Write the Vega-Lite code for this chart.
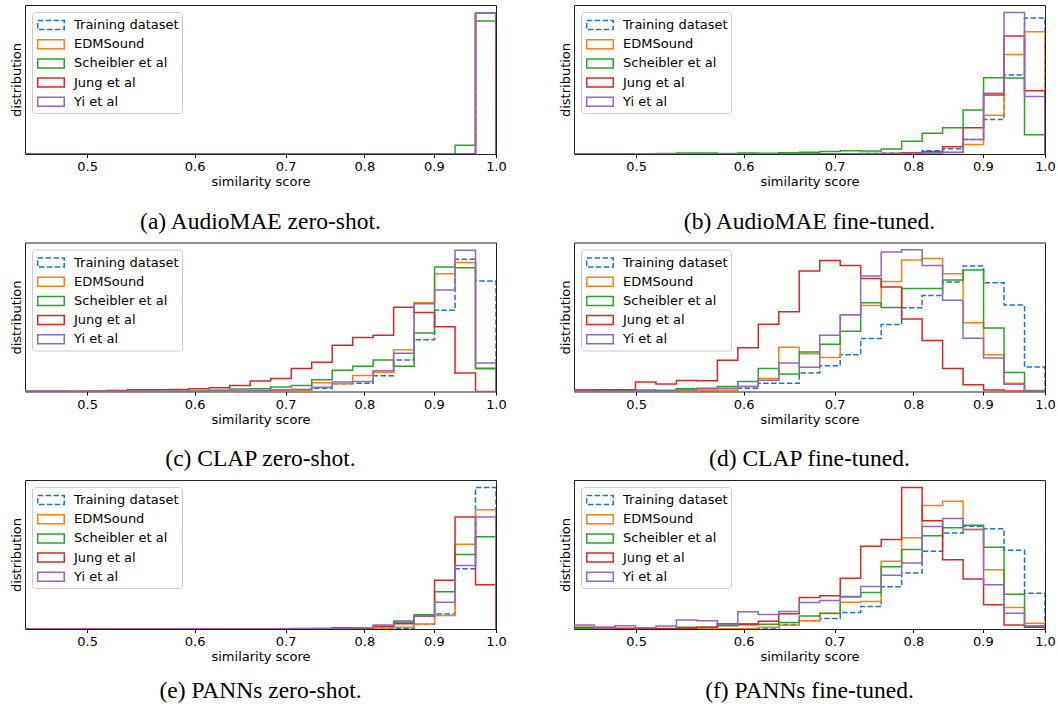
{
"$schema": "https://vega.github.io/schema/vega-lite/v6.json",
"background": "white",
"padding": {"left": 10, "top": 4, "right": 2, "bottom": 2},
"config": {
  "view": {"stroke": "#222", "strokeWidth": 1},
  "font": "DejaVu Sans",
  "axis": {"labelFont": "DejaVu Sans", "titleFont": "DejaVu Sans", "labelColor": "#000", "titleColor": "#000", "titleFontWeight": "normal", "labelFontSize": 13, "titleFontSize": 13, "grid": false},
  "axisX": {"tickSize": 3.5, "tickColor": "#000", "tickWidth": 1, "domain": false, "labelPadding": 3, "labelFlush": false, "labelOverlap": false, "titlePadding": 2},
  "axisY": {"labels": false, "ticks": false, "domain": false, "titlePadding": 1.5},
  "legend": {"orient": "top-left", "offset": 7, "padding": 3, "fillColor": "rgba(255,255,255,0.8)", "strokeColor": "#cccccc", "cornerRadius": 3, "labelFont": "DejaVu Sans", "labelFontSize": 13, "labelColor": "#000", "labelOffset": 19, "symbolType": "M-0.81,-0.5H2.14V0.5H-0.81Z", "symbolSize": 324, "symbolStrokeWidth": 1.5, "symbolFillColor": "transparent", "rowPadding": 1.2},
  "title": {"font": "Liberation Serif", "fontSize": 23.5, "fontWeight": "normal", "color": "#000", "orient": "bottom", "offset": 21, "frame": "group"}
},
"datasets": {
"a": [
{"s":0,"x":0.45,"y":0},{"s":0,"x":0.4659,"y":0},{"s":0,"x":0.48236,"y":0},{"s":0,"x":0.4994,"y":0},{"s":0,"x":0.51704,"y":0},{"s":0,"x":0.53531,"y":0},{"s":0,"x":0.55422,"y":0},{"s":0,"x":0.5738,"y":0},{"s":0,"x":0.59407,"y":0},{"s":0,"x":0.61505,"y":0},{"s":0,"x":0.63678,"y":0},{"s":0,"x":0.65928,"y":0},{"s":0,"x":0.68257,"y":0},{"s":0,"x":0.70668,"y":0},{"s":0,"x":0.73165,"y":0},{"s":0,"x":0.7575,"y":0},{"s":0,"x":0.78426,"y":0},{"s":0,"x":0.81196,"y":0},{"s":0,"x":0.84065,"y":0},{"s":0,"x":0.87035,"y":0},{"s":0,"x":0.90109,"y":0},{"s":0,"x":0.93293,"y":0},{"s":0,"x":0.96589,"y":0.948},{"s":0,"x":1,"y":0},
{"s":1,"x":0.45,"y":0},{"s":1,"x":0.4659,"y":0},{"s":1,"x":0.48236,"y":0},{"s":1,"x":0.4994,"y":0},{"s":1,"x":0.51704,"y":0},{"s":1,"x":0.53531,"y":0},{"s":1,"x":0.55422,"y":0},{"s":1,"x":0.5738,"y":0},{"s":1,"x":0.59407,"y":0},{"s":1,"x":0.61505,"y":0},{"s":1,"x":0.63678,"y":0},{"s":1,"x":0.65928,"y":0},{"s":1,"x":0.68257,"y":0},{"s":1,"x":0.70668,"y":0},{"s":1,"x":0.73165,"y":0},{"s":1,"x":0.7575,"y":0},{"s":1,"x":0.78426,"y":0},{"s":1,"x":0.81196,"y":0},{"s":1,"x":0.84065,"y":0},{"s":1,"x":0.87035,"y":0},{"s":1,"x":0.90109,"y":0},{"s":1,"x":0.93293,"y":0},{"s":1,"x":0.96589,"y":0.948},{"s":1,"x":1,"y":0},
{"s":2,"x":0.45,"y":0},{"s":2,"x":0.4659,"y":0},{"s":2,"x":0.48236,"y":0},{"s":2,"x":0.4994,"y":0},{"s":2,"x":0.51704,"y":0},{"s":2,"x":0.53531,"y":0},{"s":2,"x":0.55422,"y":0},{"s":2,"x":0.5738,"y":0},{"s":2,"x":0.59407,"y":0},{"s":2,"x":0.61505,"y":0},{"s":2,"x":0.63678,"y":0},{"s":2,"x":0.65928,"y":0},{"s":2,"x":0.68257,"y":0},{"s":2,"x":0.70668,"y":0},{"s":2,"x":0.73165,"y":0},{"s":2,"x":0.7575,"y":0},{"s":2,"x":0.78426,"y":0},{"s":2,"x":0.81196,"y":0},{"s":2,"x":0.84065,"y":0},{"s":2,"x":0.87035,"y":0},{"s":2,"x":0.90109,"y":0},{"s":2,"x":0.93293,"y":0.058},{"s":2,"x":0.96589,"y":0.892},{"s":2,"x":1,"y":0},
{"s":3,"x":0.45,"y":0},{"s":3,"x":0.4659,"y":0},{"s":3,"x":0.48236,"y":0},{"s":3,"x":0.4994,"y":0},{"s":3,"x":0.51704,"y":0},{"s":3,"x":0.53531,"y":0},{"s":3,"x":0.55422,"y":0},{"s":3,"x":0.5738,"y":0},{"s":3,"x":0.59407,"y":0},{"s":3,"x":0.61505,"y":0},{"s":3,"x":0.63678,"y":0},{"s":3,"x":0.65928,"y":0},{"s":3,"x":0.68257,"y":0},{"s":3,"x":0.70668,"y":0},{"s":3,"x":0.73165,"y":0},{"s":3,"x":0.7575,"y":0},{"s":3,"x":0.78426,"y":0},{"s":3,"x":0.81196,"y":0},{"s":3,"x":0.84065,"y":0},{"s":3,"x":0.87035,"y":0},{"s":3,"x":0.90109,"y":0},{"s":3,"x":0.93293,"y":0},{"s":3,"x":0.96589,"y":0.948},{"s":3,"x":1,"y":0},
{"s":4,"x":0.45,"y":0},{"s":4,"x":0.4659,"y":0},{"s":4,"x":0.48236,"y":0},{"s":4,"x":0.4994,"y":0},{"s":4,"x":0.51704,"y":0},{"s":4,"x":0.53531,"y":0},{"s":4,"x":0.55422,"y":0},{"s":4,"x":0.5738,"y":0},{"s":4,"x":0.59407,"y":0},{"s":4,"x":0.61505,"y":0},{"s":4,"x":0.63678,"y":0},{"s":4,"x":0.65928,"y":0},{"s":4,"x":0.68257,"y":0},{"s":4,"x":0.70668,"y":0},{"s":4,"x":0.73165,"y":0},{"s":4,"x":0.7575,"y":0},{"s":4,"x":0.78426,"y":0},{"s":4,"x":0.81196,"y":0},{"s":4,"x":0.84065,"y":0},{"s":4,"x":0.87035,"y":0},{"s":4,"x":0.90109,"y":0},{"s":4,"x":0.93293,"y":0},{"s":4,"x":0.96589,"y":0.948},{"s":4,"x":1,"y":0}
],
"b": [
{"s":0,"x":0.45,"y":0},{"s":0,"x":0.4659,"y":0},{"s":0,"x":0.48236,"y":0},{"s":0,"x":0.4994,"y":0},{"s":0,"x":0.51704,"y":0},{"s":0,"x":0.53531,"y":0},{"s":0,"x":0.55422,"y":0},{"s":0,"x":0.5738,"y":0},{"s":0,"x":0.59407,"y":0},{"s":0,"x":0.61505,"y":0},{"s":0,"x":0.63678,"y":0},{"s":0,"x":0.65928,"y":0},{"s":0,"x":0.68257,"y":0},{"s":0,"x":0.70668,"y":0.002},{"s":0,"x":0.73165,"y":0.004},{"s":0,"x":0.7575,"y":0.005},{"s":0,"x":0.78426,"y":0.008},{"s":0,"x":0.81196,"y":0.021},{"s":0,"x":0.84065,"y":0.036},{"s":0,"x":0.87035,"y":0.097},{"s":0,"x":0.90109,"y":0.231},{"s":0,"x":0.93293,"y":0.53},{"s":0,"x":0.96589,"y":0.913},{"s":0,"x":1,"y":0},
{"s":1,"x":0.45,"y":0},{"s":1,"x":0.4659,"y":0},{"s":1,"x":0.48236,"y":0},{"s":1,"x":0.4994,"y":0},{"s":1,"x":0.51704,"y":0},{"s":1,"x":0.53531,"y":0},{"s":1,"x":0.55422,"y":0},{"s":1,"x":0.5738,"y":0},{"s":1,"x":0.59407,"y":0},{"s":1,"x":0.61505,"y":0},{"s":1,"x":0.63678,"y":0},{"s":1,"x":0.65928,"y":0},{"s":1,"x":0.68257,"y":0},{"s":1,"x":0.70668,"y":0},{"s":1,"x":0.73165,"y":0},{"s":1,"x":0.7575,"y":0},{"s":1,"x":0.78426,"y":0},{"s":1,"x":0.81196,"y":0.004},{"s":1,"x":0.84065,"y":0.011},{"s":1,"x":0.87035,"y":0.063},{"s":1,"x":0.90109,"y":0.26},{"s":1,"x":0.93293,"y":0.667},{"s":1,"x":0.96589,"y":0.821},{"s":1,"x":1,"y":0},
{"s":2,"x":0.45,"y":0},{"s":2,"x":0.4659,"y":0},{"s":2,"x":0.48236,"y":0},{"s":2,"x":0.4994,"y":0.002},{"s":2,"x":0.51704,"y":0.004},{"s":2,"x":0.53531,"y":0.007},{"s":2,"x":0.55422,"y":0.007},{"s":2,"x":0.5738,"y":0.004},{"s":2,"x":0.59407,"y":0.007},{"s":2,"x":0.61505,"y":0.005},{"s":2,"x":0.63678,"y":0.009},{"s":2,"x":0.65928,"y":0.011},{"s":2,"x":0.68257,"y":0.016},{"s":2,"x":0.70668,"y":0.022},{"s":2,"x":0.73165,"y":0.02},{"s":2,"x":0.7575,"y":0.034},{"s":2,"x":0.78426,"y":0.085},{"s":2,"x":0.81196,"y":0.14},{"s":2,"x":0.84065,"y":0.176},{"s":2,"x":0.87035,"y":0.296},{"s":2,"x":0.90109,"y":0.512},{"s":2,"x":0.93293,"y":0.51},{"s":2,"x":0.96589,"y":0.129},{"s":2,"x":1,"y":0},
{"s":3,"x":0.45,"y":0},{"s":3,"x":0.4659,"y":0},{"s":3,"x":0.48236,"y":0},{"s":3,"x":0.4994,"y":0},{"s":3,"x":0.51704,"y":0},{"s":3,"x":0.53531,"y":0},{"s":3,"x":0.55422,"y":0},{"s":3,"x":0.5738,"y":0},{"s":3,"x":0.59407,"y":0},{"s":3,"x":0.61505,"y":0},{"s":3,"x":0.63678,"y":0},{"s":3,"x":0.65928,"y":0},{"s":3,"x":0.68257,"y":0},{"s":3,"x":0.70668,"y":0},{"s":3,"x":0.73165,"y":0},{"s":3,"x":0.7575,"y":0.004},{"s":3,"x":0.78426,"y":0.008},{"s":3,"x":0.81196,"y":0.015},{"s":3,"x":0.84065,"y":0.048},{"s":3,"x":0.87035,"y":0.176},{"s":3,"x":0.90109,"y":0.396},{"s":3,"x":0.93293,"y":0.792},{"s":3,"x":0.96589,"y":0.425},{"s":3,"x":1,"y":0},
{"s":4,"x":0.45,"y":0},{"s":4,"x":0.4659,"y":0},{"s":4,"x":0.48236,"y":0},{"s":4,"x":0.4994,"y":0.002},{"s":4,"x":0.51704,"y":0.002},{"s":4,"x":0.53531,"y":0.002},{"s":4,"x":0.55422,"y":0.002},{"s":4,"x":0.5738,"y":0.002},{"s":4,"x":0.59407,"y":0.002},{"s":4,"x":0.61505,"y":0.002},{"s":4,"x":0.63678,"y":0.002},{"s":4,"x":0.65928,"y":0},{"s":4,"x":0.68257,"y":0},{"s":4,"x":0.70668,"y":0},{"s":4,"x":0.73165,"y":0.003},{"s":4,"x":0.7575,"y":0.004},{"s":4,"x":0.78426,"y":0.005},{"s":4,"x":0.81196,"y":0.009},{"s":4,"x":0.84065,"y":0.01},{"s":4,"x":0.87035,"y":0.097},{"s":4,"x":0.90109,"y":0.407},{"s":4,"x":0.93293,"y":0.949},{"s":4,"x":0.96589,"y":0.386},{"s":4,"x":1,"y":0}
],
"c": [
{"s":0,"x":0.45,"y":0},{"s":0,"x":0.4659,"y":0},{"s":0,"x":0.48236,"y":0},{"s":0,"x":0.4994,"y":0},{"s":0,"x":0.51704,"y":0},{"s":0,"x":0.53531,"y":0},{"s":0,"x":0.55422,"y":0},{"s":0,"x":0.5738,"y":0},{"s":0,"x":0.59407,"y":0},{"s":0,"x":0.61505,"y":0},{"s":0,"x":0.63678,"y":0},{"s":0,"x":0.65928,"y":0.002},{"s":0,"x":0.68257,"y":0.007},{"s":0,"x":0.70668,"y":0.013},{"s":0,"x":0.73165,"y":0.022},{"s":0,"x":0.7575,"y":0.052},{"s":0,"x":0.78426,"y":0.056},{"s":0,"x":0.81196,"y":0.106},{"s":0,"x":0.84065,"y":0.211},{"s":0,"x":0.87035,"y":0.348},{"s":0,"x":0.90109,"y":0.546},{"s":0,"x":0.93293,"y":0.888},{"s":0,"x":0.96589,"y":0.742},{"s":0,"x":1,"y":0},
{"s":1,"x":0.45,"y":0},{"s":1,"x":0.4659,"y":0},{"s":1,"x":0.48236,"y":0},{"s":1,"x":0.4994,"y":0},{"s":1,"x":0.51704,"y":0},{"s":1,"x":0.53531,"y":0},{"s":1,"x":0.55422,"y":0},{"s":1,"x":0.5738,"y":0},{"s":1,"x":0.59407,"y":0},{"s":1,"x":0.61505,"y":0.002},{"s":1,"x":0.63678,"y":0.004},{"s":1,"x":0.65928,"y":0.005},{"s":1,"x":0.68257,"y":0.007},{"s":1,"x":0.70668,"y":0.007},{"s":1,"x":0.73165,"y":0.058},{"s":1,"x":0.7575,"y":0.052},{"s":1,"x":0.78426,"y":0.108},{"s":1,"x":0.81196,"y":0.13},{"s":1,"x":0.84065,"y":0.281},{"s":1,"x":0.87035,"y":0.596},{"s":1,"x":0.90109,"y":0.791},{"s":1,"x":0.93293,"y":0.865},{"s":1,"x":0.96589,"y":0.157},{"s":1,"x":1,"y":0},
{"s":2,"x":0.45,"y":0},{"s":2,"x":0.4659,"y":0},{"s":2,"x":0.48236,"y":0},{"s":2,"x":0.4994,"y":0},{"s":2,"x":0.51704,"y":0},{"s":2,"x":0.53531,"y":0},{"s":2,"x":0.55422,"y":0},{"s":2,"x":0.5738,"y":0},{"s":2,"x":0.59407,"y":0.004},{"s":2,"x":0.61505,"y":0.009},{"s":2,"x":0.63678,"y":0.016},{"s":2,"x":0.65928,"y":0.018},{"s":2,"x":0.68257,"y":0.031},{"s":2,"x":0.70668,"y":0.04},{"s":2,"x":0.73165,"y":0.079},{"s":2,"x":0.7575,"y":0.142},{"s":2,"x":0.78426,"y":0.169},{"s":2,"x":0.81196,"y":0.211},{"s":2,"x":0.84065,"y":0.169},{"s":2,"x":0.87035,"y":0.393},{"s":2,"x":0.90109,"y":0.836},{"s":2,"x":0.93293,"y":0.831},{"s":2,"x":0.96589,"y":0.153},{"s":2,"x":1,"y":0},
{"s":3,"x":0.45,"y":0},{"s":3,"x":0.4659,"y":0},{"s":3,"x":0.48236,"y":0},{"s":3,"x":0.4994,"y":0.002},{"s":3,"x":0.51704,"y":0.007},{"s":3,"x":0.53531,"y":0.011},{"s":3,"x":0.55422,"y":0.011},{"s":3,"x":0.5738,"y":0.013},{"s":3,"x":0.59407,"y":0.018},{"s":3,"x":0.61505,"y":0.025},{"s":3,"x":0.63678,"y":0.04},{"s":3,"x":0.65928,"y":0.07},{"s":3,"x":0.68257,"y":0.088},{"s":3,"x":0.70668,"y":0.155},{"s":3,"x":0.73165,"y":0.196},{"s":3,"x":0.7575,"y":0.31},{"s":3,"x":0.78426,"y":0.362},{"s":3,"x":0.81196,"y":0.378},{"s":3,"x":0.84065,"y":0.566},{"s":3,"x":0.87035,"y":0.53},{"s":3,"x":0.90109,"y":0.434},{"s":3,"x":0.93293,"y":0.124},{"s":3,"x":0.96589,"y":0},{"s":3,"x":1,"y":0},
{"s":4,"x":0.45,"y":0.003},{"s":4,"x":0.4659,"y":0.003},{"s":4,"x":0.48236,"y":0.002},{"s":4,"x":0.4994,"y":0.002},{"s":4,"x":0.51704,"y":0.002},{"s":4,"x":0.53531,"y":0.002},{"s":4,"x":0.55422,"y":0.002},{"s":4,"x":0.5738,"y":0.002},{"s":4,"x":0.59407,"y":0.002},{"s":4,"x":0.61505,"y":0.002},{"s":4,"x":0.63678,"y":0.004},{"s":4,"x":0.65928,"y":0.007},{"s":4,"x":0.68257,"y":0.011},{"s":4,"x":0.70668,"y":0.013},{"s":4,"x":0.73165,"y":0.029},{"s":4,"x":0.7575,"y":0.063},{"s":4,"x":0.78426,"y":0.067},{"s":4,"x":0.81196,"y":0.139},{"s":4,"x":0.84065,"y":0.256},{"s":4,"x":0.87035,"y":0.589},{"s":4,"x":0.90109,"y":0.681},{"s":4,"x":0.93293,"y":0.948},{"s":4,"x":0.96589,"y":0.191},{"s":4,"x":1,"y":0}
],
"d": [
{"s":0,"x":0.45,"y":0},{"s":0,"x":0.4659,"y":0},{"s":0,"x":0.48236,"y":0},{"s":0,"x":0.4994,"y":0},{"s":0,"x":0.51704,"y":0},{"s":0,"x":0.53531,"y":0},{"s":0,"x":0.55422,"y":0.002},{"s":0,"x":0.5738,"y":0.007},{"s":0,"x":0.59407,"y":0.022},{"s":0,"x":0.61505,"y":0.056},{"s":0,"x":0.63678,"y":0.056},{"s":0,"x":0.65928,"y":0.124},{"s":0,"x":0.68257,"y":0.173},{"s":0,"x":0.70668,"y":0.247},{"s":0,"x":0.73165,"y":0.355},{"s":0,"x":0.7575,"y":0.449},{"s":0,"x":0.78426,"y":0.562},{"s":0,"x":0.81196,"y":0.645},{"s":0,"x":0.84065,"y":0.735},{"s":0,"x":0.87035,"y":0.843},{"s":0,"x":0.90109,"y":0.73},{"s":0,"x":0.93293,"y":0.58},{"s":0,"x":0.96589,"y":0.164},{"s":0,"x":1,"y":0},
{"s":1,"x":0.45,"y":0.002},{"s":1,"x":0.4659,"y":0.002},{"s":1,"x":0.48236,"y":0.002},{"s":1,"x":0.4994,"y":0.011},{"s":1,"x":0.51704,"y":0.005},{"s":1,"x":0.53531,"y":0.005},{"s":1,"x":0.55422,"y":0.009},{"s":1,"x":0.5738,"y":0.009},{"s":1,"x":0.59407,"y":0.034},{"s":1,"x":0.61505,"y":0.088},{"s":1,"x":0.63678,"y":0.297},{"s":1,"x":0.65928,"y":0.254},{"s":1,"x":0.68257,"y":0.229},{"s":1,"x":0.70668,"y":0.515},{"s":1,"x":0.73165,"y":0.578},{"s":1,"x":0.7575,"y":0.739},{"s":1,"x":0.78426,"y":0.883},{"s":1,"x":0.81196,"y":0.892},{"s":1,"x":0.84065,"y":0.791},{"s":1,"x":0.87035,"y":0.461},{"s":1,"x":0.90109,"y":0.247},{"s":1,"x":0.93293,"y":0.056},{"s":1,"x":0.96589,"y":0.007},{"s":1,"x":1,"y":0},
{"s":2,"x":0.45,"y":0.011},{"s":2,"x":0.4659,"y":0.004},{"s":2,"x":0.48236,"y":0.004},{"s":2,"x":0.4994,"y":0.004},{"s":2,"x":0.51704,"y":0.009},{"s":2,"x":0.53531,"y":0.018},{"s":2,"x":0.55422,"y":0.022},{"s":2,"x":0.5738,"y":0.034},{"s":2,"x":0.59407,"y":0.067},{"s":2,"x":0.61505,"y":0.155},{"s":2,"x":0.63678,"y":0.117},{"s":2,"x":0.65928,"y":0.265},{"s":2,"x":0.68257,"y":0.317},{"s":2,"x":0.70668,"y":0.404},{"s":2,"x":0.73165,"y":0.596},{"s":2,"x":0.7575,"y":0.564},{"s":2,"x":0.78426,"y":0.692},{"s":2,"x":0.81196,"y":0.692},{"s":2,"x":0.84065,"y":0.748},{"s":2,"x":0.87035,"y":0.816},{"s":2,"x":0.90109,"y":0.427},{"s":2,"x":0.93293,"y":0.128},{"s":2,"x":0.96589,"y":0.004},{"s":2,"x":1,"y":0},
{"s":3,"x":0.45,"y":0.007},{"s":3,"x":0.4659,"y":0.011},{"s":3,"x":0.48236,"y":0.011},{"s":3,"x":0.4994,"y":0.063},{"s":3,"x":0.51704,"y":0.051},{"s":3,"x":0.53531,"y":0.074},{"s":3,"x":0.55422,"y":0.072},{"s":3,"x":0.5738,"y":0.21},{"s":3,"x":0.59407,"y":0.294},{"s":3,"x":0.61505,"y":0.452},{"s":3,"x":0.63678,"y":0.535},{"s":3,"x":0.65928,"y":0.809},{"s":3,"x":0.68257,"y":0.88},{"s":3,"x":0.70668,"y":0.845},{"s":3,"x":0.73165,"y":0.758},{"s":3,"x":0.7575,"y":0.702},{"s":3,"x":0.78426,"y":0.486},{"s":3,"x":0.81196,"y":0.342},{"s":3,"x":0.84065,"y":0.155},{"s":3,"x":0.87035,"y":0.045},{"s":3,"x":0.90109,"y":0.01},{"s":3,"x":0.93293,"y":0.003},{"s":3,"x":0.96589,"y":0},{"s":3,"x":1,"y":0},
{"s":4,"x":0.45,"y":0.002},{"s":4,"x":0.4659,"y":0.002},{"s":4,"x":0.48236,"y":0.002},{"s":4,"x":0.4994,"y":0.004},{"s":4,"x":0.51704,"y":0.004},{"s":4,"x":0.53531,"y":0.011},{"s":4,"x":0.55422,"y":0.018},{"s":4,"x":0.5738,"y":0.022},{"s":4,"x":0.59407,"y":0.034},{"s":4,"x":0.61505,"y":0.076},{"s":4,"x":0.63678,"y":0.191},{"s":4,"x":0.65928,"y":0.162},{"s":4,"x":0.68257,"y":0.378},{"s":4,"x":0.70668,"y":0.515},{"s":4,"x":0.73165,"y":0.775},{"s":4,"x":0.7575,"y":0.937},{"s":4,"x":0.78426,"y":0.951},{"s":4,"x":0.81196,"y":0.845},{"s":4,"x":0.84065,"y":0.613},{"s":4,"x":0.87035,"y":0.357},{"s":4,"x":0.90109,"y":0.225},{"s":4,"x":0.93293,"y":0.049},{"s":4,"x":0.96589,"y":0.002},{"s":4,"x":1,"y":0}
],
"e": [
{"s":0,"x":0.45,"y":0},{"s":0,"x":0.4659,"y":0},{"s":0,"x":0.48236,"y":0},{"s":0,"x":0.4994,"y":0},{"s":0,"x":0.51704,"y":0},{"s":0,"x":0.53531,"y":0},{"s":0,"x":0.55422,"y":0},{"s":0,"x":0.5738,"y":0},{"s":0,"x":0.59407,"y":0},{"s":0,"x":0.61505,"y":0},{"s":0,"x":0.63678,"y":0},{"s":0,"x":0.65928,"y":0},{"s":0,"x":0.68257,"y":0},{"s":0,"x":0.70668,"y":0},{"s":0,"x":0.73165,"y":0},{"s":0,"x":0.7575,"y":0},{"s":0,"x":0.78426,"y":0},{"s":0,"x":0.81196,"y":0.004},{"s":0,"x":0.84065,"y":0.005},{"s":0,"x":0.87035,"y":0.032},{"s":0,"x":0.90109,"y":0.101},{"s":0,"x":0.93293,"y":0.405},{"s":0,"x":0.96589,"y":0.95},{"s":0,"x":1,"y":0},
{"s":1,"x":0.45,"y":0},{"s":1,"x":0.4659,"y":0},{"s":1,"x":0.48236,"y":0},{"s":1,"x":0.4994,"y":0},{"s":1,"x":0.51704,"y":0},{"s":1,"x":0.53531,"y":0},{"s":1,"x":0.55422,"y":0},{"s":1,"x":0.5738,"y":0},{"s":1,"x":0.59407,"y":0},{"s":1,"x":0.61505,"y":0},{"s":1,"x":0.63678,"y":0},{"s":1,"x":0.65928,"y":0},{"s":1,"x":0.68257,"y":0},{"s":1,"x":0.70668,"y":0},{"s":1,"x":0.73165,"y":0},{"s":1,"x":0.7575,"y":0},{"s":1,"x":0.78426,"y":0.004},{"s":1,"x":0.81196,"y":0.007},{"s":1,"x":0.84065,"y":0.011},{"s":1,"x":0.87035,"y":0.034},{"s":1,"x":0.90109,"y":0.09},{"s":1,"x":0.93293,"y":0.568},{"s":1,"x":0.96589,"y":0.8},{"s":1,"x":1,"y":0},
{"s":2,"x":0.45,"y":0},{"s":2,"x":0.4659,"y":0},{"s":2,"x":0.48236,"y":0},{"s":2,"x":0.4994,"y":0},{"s":2,"x":0.51704,"y":0},{"s":2,"x":0.53531,"y":0},{"s":2,"x":0.55422,"y":0},{"s":2,"x":0.5738,"y":0},{"s":2,"x":0.59407,"y":0},{"s":2,"x":0.61505,"y":0},{"s":2,"x":0.63678,"y":0},{"s":2,"x":0.65928,"y":0},{"s":2,"x":0.68257,"y":0},{"s":2,"x":0.70668,"y":0},{"s":2,"x":0.73165,"y":0},{"s":2,"x":0.7575,"y":0},{"s":2,"x":0.78426,"y":0.004},{"s":2,"x":0.81196,"y":0.016},{"s":2,"x":0.84065,"y":0.054},{"s":2,"x":0.87035,"y":0.095},{"s":2,"x":0.90109,"y":0.25},{"s":2,"x":0.93293,"y":0.5},{"s":2,"x":0.96589,"y":0.619},{"s":2,"x":1,"y":0},
{"s":3,"x":0.45,"y":0},{"s":3,"x":0.4659,"y":0},{"s":3,"x":0.48236,"y":0},{"s":3,"x":0.4994,"y":0},{"s":3,"x":0.51704,"y":0},{"s":3,"x":0.53531,"y":0},{"s":3,"x":0.55422,"y":0},{"s":3,"x":0.5738,"y":0},{"s":3,"x":0.59407,"y":0},{"s":3,"x":0.61505,"y":0},{"s":3,"x":0.63678,"y":0},{"s":3,"x":0.65928,"y":0},{"s":3,"x":0.68257,"y":0.002},{"s":3,"x":0.70668,"y":0.004},{"s":3,"x":0.73165,"y":0.004},{"s":3,"x":0.7575,"y":0.009},{"s":3,"x":0.78426,"y":0.009},{"s":3,"x":0.81196,"y":0.018},{"s":3,"x":0.84065,"y":0.036},{"s":3,"x":0.87035,"y":0.085},{"s":3,"x":0.90109,"y":0.327},{"s":3,"x":0.93293,"y":0.752},{"s":3,"x":0.96589,"y":0.297},{"s":3,"x":1,"y":0},
{"s":4,"x":0.45,"y":0},{"s":4,"x":0.4659,"y":0},{"s":4,"x":0.48236,"y":0},{"s":4,"x":0.4994,"y":0},{"s":4,"x":0.51704,"y":0},{"s":4,"x":0.53531,"y":0},{"s":4,"x":0.55422,"y":0},{"s":4,"x":0.5738,"y":0},{"s":4,"x":0.59407,"y":0},{"s":4,"x":0.61505,"y":0},{"s":4,"x":0.63678,"y":0},{"s":4,"x":0.65928,"y":0},{"s":4,"x":0.68257,"y":0},{"s":4,"x":0.70668,"y":0.002},{"s":4,"x":0.73165,"y":0.004},{"s":4,"x":0.7575,"y":0.004},{"s":4,"x":0.78426,"y":0.009},{"s":4,"x":0.81196,"y":0.027},{"s":4,"x":0.84065,"y":0.045},{"s":4,"x":0.87035,"y":0.088},{"s":4,"x":0.90109,"y":0.18},{"s":4,"x":0.93293,"y":0.426},{"s":4,"x":0.96589,"y":0.752},{"s":4,"x":1,"y":0}
],
"f": [
{"s":0,"x":0.45,"y":0},{"s":0,"x":0.4659,"y":0},{"s":0,"x":0.48236,"y":0},{"s":0,"x":0.4994,"y":0},{"s":0,"x":0.51704,"y":0},{"s":0,"x":0.53531,"y":0},{"s":0,"x":0.55422,"y":0},{"s":0,"x":0.5738,"y":0},{"s":0,"x":0.59407,"y":0.002},{"s":0,"x":0.61505,"y":0.007},{"s":0,"x":0.63678,"y":0.03},{"s":0,"x":0.65928,"y":0.055},{"s":0,"x":0.68257,"y":0.07},{"s":0,"x":0.70668,"y":0.11},{"s":0,"x":0.73165,"y":0.151},{"s":0,"x":0.7575,"y":0.283},{"s":0,"x":0.78426,"y":0.376},{"s":0,"x":0.81196,"y":0.522},{"s":0,"x":0.84065,"y":0.645},{"s":0,"x":0.87035,"y":0.69},{"s":0,"x":0.90109,"y":0.672},{"s":0,"x":0.93293,"y":0.528},{"s":0,"x":0.96589,"y":0.24},{"s":0,"x":1,"y":0},
{"s":1,"x":0.45,"y":0},{"s":1,"x":0.4659,"y":0},{"s":1,"x":0.48236,"y":0},{"s":1,"x":0.4994,"y":0},{"s":1,"x":0.51704,"y":0},{"s":1,"x":0.53531,"y":0},{"s":1,"x":0.55422,"y":0},{"s":1,"x":0.5738,"y":0.002},{"s":1,"x":0.59407,"y":0.004},{"s":1,"x":0.61505,"y":0.011},{"s":1,"x":0.63678,"y":0.025},{"s":1,"x":0.65928,"y":0.056},{"s":1,"x":0.68257,"y":0.104},{"s":1,"x":0.70668,"y":0.18},{"s":1,"x":0.73165,"y":0.185},{"s":1,"x":0.7575,"y":0.455},{"s":1,"x":0.78426,"y":0.613},{"s":1,"x":0.81196,"y":0.829},{"s":1,"x":0.84065,"y":0.857},{"s":1,"x":0.87035,"y":0.667},{"s":1,"x":0.90109,"y":0.398},{"s":1,"x":0.93293,"y":0.144},{"s":1,"x":0.96589,"y":0.038},{"s":1,"x":1,"y":0},
{"s":2,"x":0.45,"y":0.004},{"s":2,"x":0.4659,"y":0.002},{"s":2,"x":0.48236,"y":0.002},{"s":2,"x":0.4994,"y":0.002},{"s":2,"x":0.51704,"y":0.002},{"s":2,"x":0.53531,"y":0.011},{"s":2,"x":0.55422,"y":0.011},{"s":2,"x":0.5738,"y":0.022},{"s":2,"x":0.59407,"y":0.036},{"s":2,"x":0.61505,"y":0.032},{"s":2,"x":0.63678,"y":0.043},{"s":2,"x":0.65928,"y":0.088},{"s":2,"x":0.68257,"y":0.105},{"s":2,"x":0.70668,"y":0.218},{"s":2,"x":0.73165,"y":0.245},{"s":2,"x":0.7575,"y":0.417},{"s":2,"x":0.78426,"y":0.534},{"s":2,"x":0.81196,"y":0.626},{"s":2,"x":0.84065,"y":0.68},{"s":2,"x":0.87035,"y":0.697},{"s":2,"x":0.90109,"y":0.548},{"s":2,"x":0.93293,"y":0.234},{"s":2,"x":0.96589,"y":0.02},{"s":2,"x":1,"y":0},
{"s":3,"x":0.45,"y":0.011},{"s":3,"x":0.4659,"y":0.011},{"s":3,"x":0.48236,"y":0.005},{"s":3,"x":0.4994,"y":0.004},{"s":3,"x":0.51704,"y":0.004},{"s":3,"x":0.53531,"y":0.005},{"s":3,"x":0.55422,"y":0.011},{"s":3,"x":0.5738,"y":0.036},{"s":3,"x":0.59407,"y":0.028},{"s":3,"x":0.61505,"y":0.052},{"s":3,"x":0.63678,"y":0.102},{"s":3,"x":0.65928,"y":0.212},{"s":3,"x":0.68257,"y":0.223},{"s":3,"x":0.70668,"y":0.34},{"s":3,"x":0.73165,"y":0.556},{"s":3,"x":0.7575,"y":0.601},{"s":3,"x":0.78426,"y":0.95},{"s":3,"x":0.81196,"y":0.727},{"s":3,"x":0.84065,"y":0.465},{"s":3,"x":0.87035,"y":0.335},{"s":3,"x":0.90109,"y":0.162},{"s":3,"x":0.93293,"y":0.027},{"s":3,"x":0.96589,"y":0.011},{"s":3,"x":1,"y":0},
{"s":4,"x":0.45,"y":0.027},{"s":4,"x":0.4659,"y":0.005},{"s":4,"x":0.48236,"y":0.022},{"s":4,"x":0.4994,"y":0.009},{"s":4,"x":0.51704,"y":0.02},{"s":4,"x":0.53531,"y":0.061},{"s":4,"x":0.55422,"y":0.055},{"s":4,"x":0.5738,"y":0.032},{"s":4,"x":0.59407,"y":0.115},{"s":4,"x":0.61505,"y":0.098},{"s":4,"x":0.63678,"y":0.117},{"s":4,"x":0.65928,"y":0.178},{"s":4,"x":0.68257,"y":0.191},{"s":4,"x":0.70668,"y":0.214},{"s":4,"x":0.73165,"y":0.286},{"s":4,"x":0.7575,"y":0.36},{"s":4,"x":0.78426,"y":0.443},{"s":4,"x":0.81196,"y":0.688},{"s":4,"x":0.84065,"y":0.742},{"s":4,"x":0.87035,"y":0.667},{"s":4,"x":0.90109,"y":0.297},{"s":4,"x":0.93293,"y":0.106},{"s":4,"x":0.96589,"y":0.022},{"s":4,"x":1,"y":0}
]
},
"columns": 2,
"concat": [
  {"data": {"name": "a"}, "width": 471, "height": 149, "title": {"text": "(a) AudioMAE zero-shot."},
   "mark": {"type": "line", "interpolate": "step-after", "strokeWidth": 1.5, "strokeJoin": "miter", "clip": true},
   "encoding": {
    "x": {"field": "x", "type": "quantitative", "scale": {"type": "log", "domain": [0.45, 1], "nice": false}, "axis": {"values": [0.5, 0.6, 0.7, 0.8, 0.9, 1], "format": ".1f", "title": "similarity score"}},
    "y": {"field": "y", "type": "quantitative", "scale": {"domain": [0, 1], "nice": false}, "axis": {"title": "distribution"}},
    "color": {"field": "s", "type": "nominal", "scale": {"domain": [0, 1, 2, 3, 4], "range": ["#1f77b4", "#ff7f0e", "#2ca02c", "#d62728", "#9467bd"]}, "legend": {"title": null, "labelExpr": "['Training dataset','EDMSound','Scheibler et al','Jung et al','Yi et al'][datum.value]"}},
    "strokeDash": {"field": "s", "type": "nominal", "scale": {"domain": [0, 1, 2, 3, 4], "range": [[5.5, 2.4], [1, 0], [1, 0], [1, 0], [1, 0]]}, "legend": {"title": null, "labelExpr": "['Training dataset','EDMSound','Scheibler et al','Jung et al','Yi et al'][datum.value]"}}
   }},
  {"data": {"name": "b"}, "width": 471, "height": 149, "title": {"text": "(b) AudioMAE fine-tuned."},
   "mark": {"type": "line", "interpolate": "step-after", "strokeWidth": 1.5, "strokeJoin": "miter", "clip": true},
   "encoding": {
    "x": {"field": "x", "type": "quantitative", "scale": {"type": "log", "domain": [0.45, 1], "nice": false}, "axis": {"values": [0.5, 0.6, 0.7, 0.8, 0.9, 1], "format": ".1f", "title": "similarity score"}},
    "y": {"field": "y", "type": "quantitative", "scale": {"domain": [0, 1], "nice": false}, "axis": {"title": "distribution"}},
    "color": {"field": "s", "type": "nominal", "scale": {"domain": [0, 1, 2, 3, 4], "range": ["#1f77b4", "#ff7f0e", "#2ca02c", "#d62728", "#9467bd"]}, "legend": {"title": null, "labelExpr": "['Training dataset','EDMSound','Scheibler et al','Jung et al','Yi et al'][datum.value]"}},
    "strokeDash": {"field": "s", "type": "nominal", "scale": {"domain": [0, 1, 2, 3, 4], "range": [[5.5, 2.4], [1, 0], [1, 0], [1, 0], [1, 0]]}, "legend": {"title": null, "labelExpr": "['Training dataset','EDMSound','Scheibler et al','Jung et al','Yi et al'][datum.value]"}}
   }},
  {"data": {"name": "c"}, "width": 471, "height": 149, "title": {"text": "(c) CLAP zero-shot."},
   "mark": {"type": "line", "interpolate": "step-after", "strokeWidth": 1.5, "strokeJoin": "miter", "clip": true},
   "encoding": {
    "x": {"field": "x", "type": "quantitative", "scale": {"type": "log", "domain": [0.45, 1], "nice": false}, "axis": {"values": [0.5, 0.6, 0.7, 0.8, 0.9, 1], "format": ".1f", "title": "similarity score"}},
    "y": {"field": "y", "type": "quantitative", "scale": {"domain": [0, 1], "nice": false}, "axis": {"title": "distribution"}},
    "color": {"field": "s", "type": "nominal", "scale": {"domain": [0, 1, 2, 3, 4], "range": ["#1f77b4", "#ff7f0e", "#2ca02c", "#d62728", "#9467bd"]}, "legend": {"title": null, "labelExpr": "['Training dataset','EDMSound','Scheibler et al','Jung et al','Yi et al'][datum.value]"}},
    "strokeDash": {"field": "s", "type": "nominal", "scale": {"domain": [0, 1, 2, 3, 4], "range": [[5.5, 2.4], [1, 0], [1, 0], [1, 0], [1, 0]]}, "legend": {"title": null, "labelExpr": "['Training dataset','EDMSound','Scheibler et al','Jung et al','Yi et al'][datum.value]"}}
   }},
  {"data": {"name": "d"}, "width": 471, "height": 149, "title": {"text": "(d) CLAP fine-tuned."},
   "mark": {"type": "line", "interpolate": "step-after", "strokeWidth": 1.5, "strokeJoin": "miter", "clip": true},
   "encoding": {
    "x": {"field": "x", "type": "quantitative", "scale": {"type": "log", "domain": [0.45, 1], "nice": false}, "axis": {"values": [0.5, 0.6, 0.7, 0.8, 0.9, 1], "format": ".1f", "title": "similarity score"}},
    "y": {"field": "y", "type": "quantitative", "scale": {"domain": [0, 1], "nice": false}, "axis": {"title": "distribution"}},
    "color": {"field": "s", "type": "nominal", "scale": {"domain": [0, 1, 2, 3, 4], "range": ["#1f77b4", "#ff7f0e", "#2ca02c", "#d62728", "#9467bd"]}, "legend": {"title": null, "labelExpr": "['Training dataset','EDMSound','Scheibler et al','Jung et al','Yi et al'][datum.value]"}},
    "strokeDash": {"field": "s", "type": "nominal", "scale": {"domain": [0, 1, 2, 3, 4], "range": [[5.5, 2.4], [1, 0], [1, 0], [1, 0], [1, 0]]}, "legend": {"title": null, "labelExpr": "['Training dataset','EDMSound','Scheibler et al','Jung et al','Yi et al'][datum.value]"}}
   }},
  {"data": {"name": "e"}, "width": 471, "height": 149, "title": {"text": "(e) PANNs zero-shot.", "offset": 15},
   "mark": {"type": "line", "interpolate": "step-after", "strokeWidth": 1.5, "strokeJoin": "miter", "clip": true},
   "encoding": {
    "x": {"field": "x", "type": "quantitative", "scale": {"type": "log", "domain": [0.45, 1], "nice": false}, "axis": {"values": [0.5, 0.6, 0.7, 0.8, 0.9, 1], "format": ".1f", "title": "similarity score"}},
    "y": {"field": "y", "type": "quantitative", "scale": {"domain": [0, 1], "nice": false}, "axis": {"title": "distribution"}},
    "color": {"field": "s", "type": "nominal", "scale": {"domain": [0, 1, 2, 3, 4], "range": ["#1f77b4", "#ff7f0e", "#2ca02c", "#d62728", "#9467bd"]}, "legend": {"title": null, "labelExpr": "['Training dataset','EDMSound','Scheibler et al','Jung et al','Yi et al'][datum.value]"}},
    "strokeDash": {"field": "s", "type": "nominal", "scale": {"domain": [0, 1, 2, 3, 4], "range": [[5.5, 2.4], [1, 0], [1, 0], [1, 0], [1, 0]]}, "legend": {"title": null, "labelExpr": "['Training dataset','EDMSound','Scheibler et al','Jung et al','Yi et al'][datum.value]"}}
   }},
  {"data": {"name": "f"}, "width": 471, "height": 149, "title": {"text": "(f) PANNs fine-tuned.", "offset": 15},
   "mark": {"type": "line", "interpolate": "step-after", "strokeWidth": 1.5, "strokeJoin": "miter", "clip": true},
   "encoding": {
    "x": {"field": "x", "type": "quantitative", "scale": {"type": "log", "domain": [0.45, 1], "nice": false}, "axis": {"values": [0.5, 0.6, 0.7, 0.8, 0.9, 1], "format": ".1f", "title": "similarity score"}},
    "y": {"field": "y", "type": "quantitative", "scale": {"domain": [0, 1], "nice": false}, "axis": {"title": "distribution"}},
    "color": {"field": "s", "type": "nominal", "scale": {"domain": [0, 1, 2, 3, 4], "range": ["#1f77b4", "#ff7f0e", "#2ca02c", "#d62728", "#9467bd"]}, "legend": {"title": null, "labelExpr": "['Training dataset','EDMSound','Scheibler et al','Jung et al','Yi et al'][datum.value]"}},
    "strokeDash": {"field": "s", "type": "nominal", "scale": {"domain": [0, 1, 2, 3, 4], "range": [[5.5, 2.4], [1, 0], [1, 0], [1, 0], [1, 0]]}, "legend": {"title": null, "labelExpr": "['Training dataset','EDMSound','Scheibler et al','Jung et al','Yi et al'][datum.value]"}}
   }}
],
"spacing": {"row": 88.5, "column": 78},
"bounds": "flush",
"resolve": {"scale": {"color": "independent", "strokeDash": "independent", "x": "independent", "y": "independent"}, "legend": {"color": "independent", "strokeDash": "independent"}}
}
